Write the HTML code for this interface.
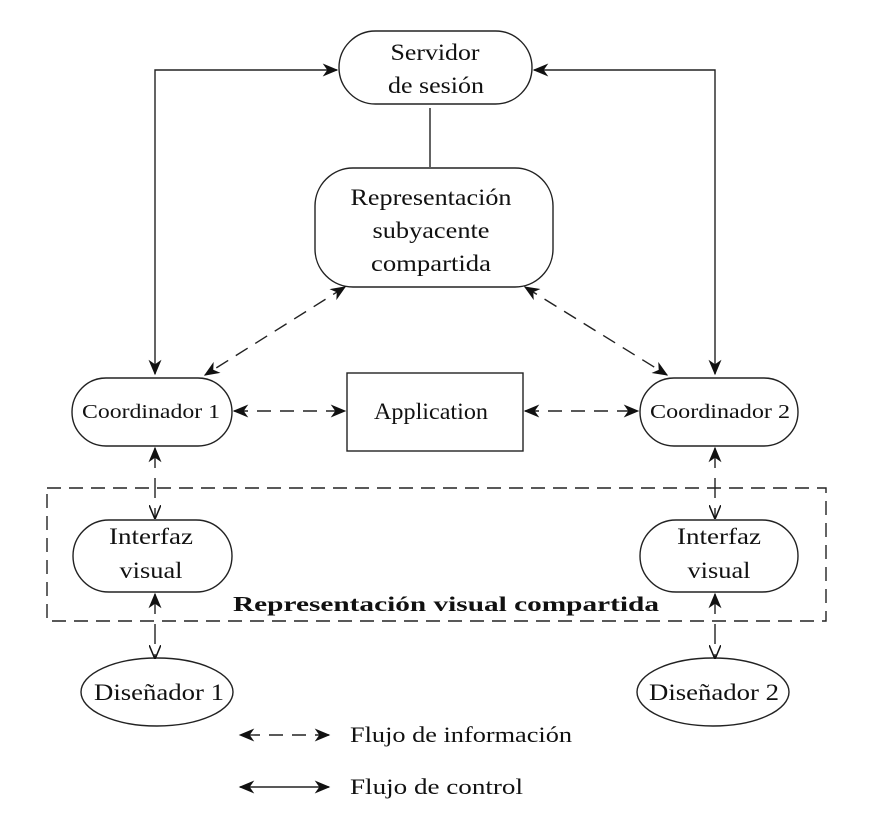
<!DOCTYPE html>
<html><head><meta charset="utf-8"><style>
html,body{margin:0;padding:0;background:#fff;}
svg{display:block;}
text{font-family:"Liberation Serif",serif;fill:#111;}
</style></head><body>
<svg width="872" height="813" viewBox="0 0 872 813" xmlns="http://www.w3.org/2000/svg">
<defs>
<marker id="a" viewBox="0 0 12 10" refX="11" refY="5" markerWidth="16" markerHeight="13" markerUnits="userSpaceOnUse" orient="auto-start-reverse">
<path d="M0,0 L12,5 L0,10 L3.5,5 Z" fill="#111"/>
</marker>
<marker id="b" viewBox="0 0 12 10" refX="11" refY="5" markerWidth="14" markerHeight="12" markerUnits="userSpaceOnUse" orient="auto-start-reverse">
<path d="M0,0 L12,5 L0,10" fill="none" stroke="#111" stroke-width="1.3"/>
</marker>
</defs>
<g fill="none" stroke="#222" stroke-width="1.4">
<rect x="339" y="31" width="193" height="73" rx="36.5"/>
<rect x="315" y="168" width="238" height="119" rx="38"/>
<rect x="72" y="378" width="160" height="68" rx="34"/>
<rect x="347" y="373" width="176" height="78"/>
<rect x="640" y="378" width="158" height="68" rx="34"/>
<rect x="73" y="520" width="159" height="72" rx="36"/>
<rect x="640" y="520" width="158" height="72" rx="36"/>
<ellipse cx="157" cy="692" rx="76" ry="34"/>
<ellipse cx="713" cy="692" rx="76" ry="34"/>
<rect x="47" y="488" width="779" height="133" stroke-dasharray="14,8"/>
<line x1="430" y1="108" x2="430" y2="167"/>
<path d="M337,70 H155 V374" marker-start="url(#a)" marker-end="url(#a)"/>
<path d="M534,70 H715 V374" marker-start="url(#a)" marker-end="url(#a)"/>
<g stroke-dasharray="14,9">
<line x1="345" y1="287" x2="205" y2="375" marker-start="url(#a)" marker-end="url(#a)"/>
<line x1="525" y1="287" x2="667" y2="375" marker-start="url(#a)" marker-end="url(#a)"/>
<line x1="234" y1="411" x2="345" y2="411" marker-start="url(#a)" marker-end="url(#a)"/>
<line x1="525" y1="411" x2="638" y2="411" marker-start="url(#a)" marker-end="url(#a)"/>
<line x1="329" y1="735" x2="240" y2="735" marker-start="url(#a)" marker-end="url(#a)"/>
</g>
<line x1="155" y1="448" x2="155" y2="518" stroke-dasharray="20,10" marker-start="url(#a)" marker-end="url(#b)"/>
<line x1="715" y1="448" x2="715" y2="518" stroke-dasharray="20,10" marker-start="url(#a)" marker-end="url(#b)"/>
<line x1="155" y1="594" x2="155" y2="658" stroke-dasharray="20,10" marker-start="url(#a)" marker-end="url(#b)"/>
<line x1="715" y1="594" x2="715" y2="658" stroke-dasharray="20,10" marker-start="url(#a)" marker-end="url(#b)"/>
<line x1="240" y1="787" x2="329" y2="787" marker-start="url(#a)" marker-end="url(#a)"/>
</g>
<g font-size="23" text-anchor="middle" lengthAdjust="spacingAndGlyphs">
<text x="435" y="60" textLength="89" lengthAdjust="spacingAndGlyphs">Servidor</text>
<text x="436" y="93" textLength="96" lengthAdjust="spacingAndGlyphs">de sesión</text>
<text x="431" y="205" textLength="161" lengthAdjust="spacingAndGlyphs">Representación</text>
<text x="431" y="238" textLength="117" lengthAdjust="spacingAndGlyphs">subyacente</text>
<text x="431" y="271" textLength="120" lengthAdjust="spacingAndGlyphs">compartida</text>
<text x="151" y="418" font-size="20" textLength="138" lengthAdjust="spacingAndGlyphs">Coordinador 1</text>
<text x="431" y="419" textLength="114" lengthAdjust="spacingAndGlyphs">Application</text>
<text x="720" y="418" font-size="20" textLength="140" lengthAdjust="spacingAndGlyphs">Coordinador 2</text>
<text x="151" y="544" textLength="84" lengthAdjust="spacingAndGlyphs">Interfaz</text>
<text x="151" y="578" textLength="63" lengthAdjust="spacingAndGlyphs">visual</text>
<text x="719" y="544" textLength="84" lengthAdjust="spacingAndGlyphs">Interfaz</text>
<text x="719" y="578" textLength="63" lengthAdjust="spacingAndGlyphs">visual</text>
<text x="159" y="700" textLength="130" lengthAdjust="spacingAndGlyphs">Diseñador 1</text>
<text x="714" y="700" textLength="130" lengthAdjust="spacingAndGlyphs">Diseñador 2</text>
<text x="446" y="611" font-weight="bold" font-size="21" textLength="426" lengthAdjust="spacingAndGlyphs">Representación visual compartida</text>
</g>
<g font-size="22">
<text x="350" y="742" textLength="222" lengthAdjust="spacingAndGlyphs">Flujo de información</text>
<text x="350" y="794" textLength="173" lengthAdjust="spacingAndGlyphs">Flujo de control</text>
</g>
</svg>
</body></html>
